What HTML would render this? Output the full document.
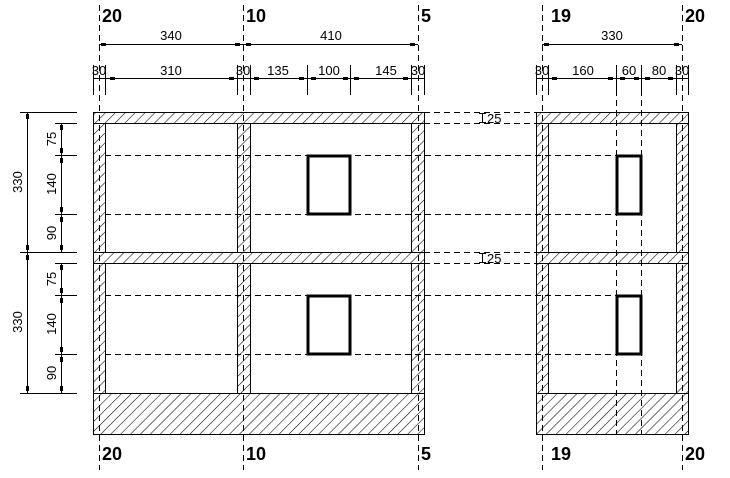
<!DOCTYPE html>
<html><head><style>body{margin:0;background:#fff}svg{display:block}</style></head><body>
<svg width="730" height="478" viewBox="0 0 730 478" xmlns="http://www.w3.org/2000/svg" font-family="Liberation Sans, sans-serif">
<defs>
<pattern id="h" patternUnits="userSpaceOnUse" width="7" height="7" patternTransform="rotate(45)">
<line x1="0" y1="-1" x2="0" y2="8" stroke="#000" stroke-width="1.1"/>
</pattern>
</defs>
<g fill="url(#h)" stroke="#000" stroke-width="1">
<rect x="93.5" y="112.5" width="331" height="11"/>
<rect x="93.5" y="252.5" width="331" height="11"/>
<rect x="93.5" y="393.5" width="331" height="41"/>
<rect x="93.5" y="123.5" width="12" height="129"/>
<rect x="237.5" y="123.5" width="13" height="129"/>
<rect x="411.5" y="123.5" width="13" height="129"/>
<rect x="93.5" y="263.5" width="12" height="130"/>
<rect x="237.5" y="263.5" width="13" height="130"/>
<rect x="411.5" y="263.5" width="13" height="130"/>
<rect x="536.5" y="112.5" width="152" height="11"/>
<rect x="536.5" y="252.5" width="152" height="11"/>
<rect x="536.5" y="393.5" width="152" height="41"/>
<rect x="536.5" y="123.5" width="12" height="129"/>
<rect x="676.5" y="123.5" width="12" height="129"/>
<rect x="536.5" y="263.5" width="12" height="130"/>
<rect x="676.5" y="263.5" width="12" height="130"/>
</g>
<g stroke="#000" stroke-width="1" stroke-dasharray="6,4" fill="none">
<line x1="99.5" y1="5" x2="99.5" y2="470"/>
<line x1="243.5" y1="5" x2="243.5" y2="470"/>
<line x1="418.5" y1="5" x2="418.5" y2="470"/>
<line x1="542.5" y1="5" x2="542.5" y2="470"/>
<line x1="682.5" y1="5" x2="682.5" y2="470"/>
<line x1="616.5" y1="80" x2="616.5" y2="434"/>
<line x1="641.5" y1="80" x2="641.5" y2="434"/>
<line x1="105" y1="155.5" x2="616" y2="155.5"/>
<line x1="105" y1="214.5" x2="616" y2="214.5"/>
<line x1="105" y1="295.5" x2="616" y2="295.5"/>
<line x1="105" y1="354.5" x2="616" y2="354.5"/>
<line x1="424" y1="112.5" x2="536" y2="112.5"/>
<line x1="424" y1="123.5" x2="536" y2="123.5"/>
<line x1="424" y1="252.5" x2="536" y2="252.5"/>
<line x1="424" y1="263.5" x2="536" y2="263.5"/>
</g>
<g fill="#fff" stroke="#000" stroke-width="3">
<rect x="308" y="156" width="42" height="58"/>
<rect x="308" y="296" width="42" height="58"/>
<rect x="617" y="156" width="24" height="58"/>
<rect x="617" y="296" width="24" height="58"/>
</g>
<g stroke="#000" stroke-width="1">
<line x1="482.5" y1="113" x2="482.5" y2="123"/><line x1="479" y1="113.5" x2="486" y2="113.5"/><line x1="479" y1="122.5" x2="486" y2="122.5"/>
<line x1="482.5" y1="253" x2="482.5" y2="263"/><line x1="479" y1="253.5" x2="486" y2="253.5"/><line x1="479" y1="262.5" x2="486" y2="262.5"/>
</g>
<g font-size="13" fill="#000">
<text x="487" y="123">25</text><text x="487" y="263">25</text>
</g>
<g stroke="#000" stroke-width="1">
<line x1="99" y1="44.5" x2="418" y2="44.5"/>
<line x1="542" y1="44.5" x2="682" y2="44.5"/>
<line x1="93" y1="78.5" x2="424" y2="78.5"/>
<line x1="536" y1="78.5" x2="688" y2="78.5"/>
<path d="M93.5 65V95M105.5 65V95M237.5 65V95M250.5 65V95M307.5 65V95M350.5 65V95M411.5 65V95M424.5 65V95M536.5 65V95M548.5 65V95M616.5 65V95M641.5 65V95M676.5 65V95M688.5 65V95"/>
</g>
<g stroke="#000" stroke-width="3">
<path d="M101 44.5h5M235 44.5h5M246 44.5h5M410 44.5h5M544 44.5h5M674 44.5h5"/>
<path d="M110 78.5h5M229 78.5h5M254 78.5h5M299 78.5h5M311 78.5h5M343 78.5h5M354 78.5h5M403 78.5h5M552 78.5h5M608 78.5h5M620 78.5h5M634 78.5h5M645 78.5h5M668 78.5h5"/>
</g>
<g font-size="13" fill="#000" text-anchor="middle">
<text x="171" y="40">340</text><text x="331" y="40">410</text><text x="612" y="40">330</text>
<text x="99" y="75">30</text><text x="171" y="75">310</text><text x="243" y="75">30</text>
<text x="278" y="75">135</text><text x="329" y="75">100</text><text x="386" y="75">145</text><text x="418" y="75">30</text>
<text x="542" y="75">30</text><text x="583" y="75">160</text><text x="629" y="75">60</text><text x="659" y="75">80</text><text x="682" y="75">30</text>
</g>
<g stroke="#000" stroke-width="1">
<line x1="27.5" y1="112" x2="27.5" y2="393"/>
<line x1="61.5" y1="123" x2="61.5" y2="252"/>
<line x1="61.5" y1="263" x2="61.5" y2="393"/>
<path d="M20 112.5H77M20 252.5H77M20 393.5H77M55 123.5H77M55 155.5H77M55 214.5H77M55 263.5H77M55 295.5H77M55 354.5H77"/>
</g>
<g stroke="#000" stroke-width="3">
<path d="M27.5 114v5M27.5 245v5M27.5 255v5M27.5 386v5M61.5 125v5M61.5 148v5M61.5 158v5M61.5 207v5M61.5 217v5M61.5 245v5M61.5 265v5M61.5 288v5M61.5 298v5M61.5 347v5M61.5 357v5M61.5 386v5"/>
</g>
<g font-size="13" fill="#000" text-anchor="middle">
<text transform="translate(22,182) rotate(-90)">330</text>
<text transform="translate(22,322) rotate(-90)">330</text>
<text transform="translate(56,139) rotate(-90)">75</text>
<text transform="translate(56,184) rotate(-90)">140</text>
<text transform="translate(56,233) rotate(-90)">90</text>
<text transform="translate(56,279) rotate(-90)">75</text>
<text transform="translate(56,324) rotate(-90)">140</text>
<text transform="translate(56,373) rotate(-90)">90</text>
</g>
<g font-size="18" font-weight="bold" fill="#000">
<text x="102" y="22">20</text><text x="246" y="22">10</text><text x="421" y="22">5</text><text x="551" y="22">19</text><text x="685" y="22">20</text>
<text x="102" y="460">20</text><text x="246" y="460">10</text><text x="421" y="460">5</text><text x="551" y="460">19</text><text x="685" y="460">20</text>
</g>
</svg>
</body></html>
